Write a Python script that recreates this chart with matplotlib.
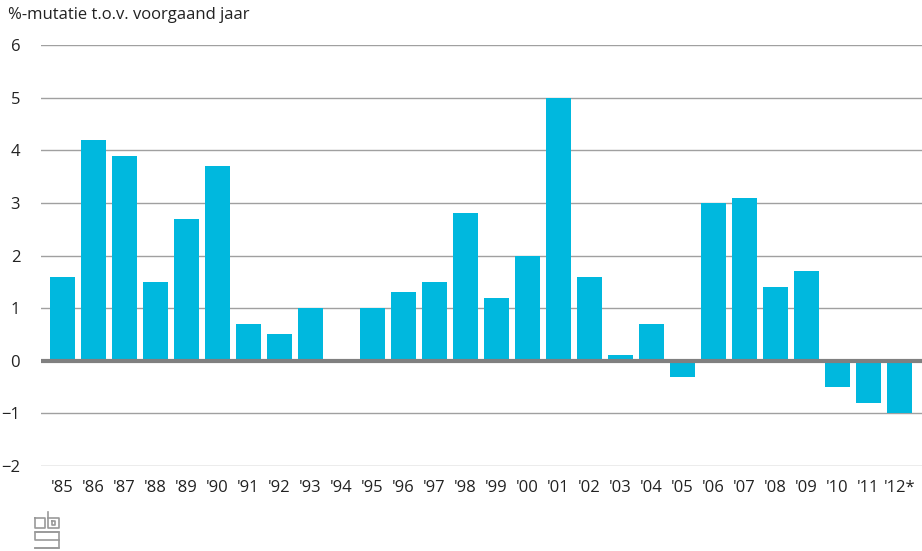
import matplotlib
matplotlib.use('Agg')
import matplotlib.pyplot as plt
import numpy as np

# data
years = ["'85", "'86", "'87", "'88", "'89", "'90", "'91", "'92", "'93", "'94",
         "'95", "'96", "'97", "'98", "'99", "'00", "'01", "'02", "'03", "'04",
         "'05", "'06", "'07", "'08", "'09", "'10", "'11", "'12*"]
mutatie = [1.6, 4.2, 3.9, 1.5, 2.7, 3.7, 0.7, 0.5, 1.0, 0.0,
           1.0, 1.3, 1.5, 2.8, 1.2, 2.0, 5.0, 1.6, 0.1, 0.7,
           -0.3, 3.0, 3.1, 1.4, 1.7, -0.5, -0.8, -1.0]
yticks = [-2, -1, 0, 1, 2, 3, 4, 5, 6]

plt.rcParams['font.family'] = ['Open Sans', 'DejaVu Sans']

fig = plt.figure(figsize=(9.22, 5.51), dpi=100)
ax = fig.add_axes([41/922, 1-466/551, 1-41/922, 421/551])

x = np.arange(len(years))
ax.bar(x, mutatie, width=0.806, color='#00b8de', zorder=2)

ax.set_ylim(-2, 6)
ax.set_xlim(-0.694, 27.73)
ax.set_yticks(yticks)
ax.set_yticklabels([str(t).replace('-', '\u2212') for t in yticks])
ax.set_xticks(x)
ax.set_xticklabels(years)

ax.grid(axis='y', color='#a0a0a0', linewidth=1, zorder=1)
ax.axhline(0, color='#808080', linewidth=3, zorder=3)
for s in ax.spines.values():
    s.set_visible(False)
ax.tick_params(axis='both', length=0, labelsize=12, colors='#222222')
ax.tick_params(axis='y', pad=15)
ax.tick_params(axis='x', pad=10)

fig.text(8/922, 1-15/551, '%-mutatie t.o.v. voorgaand jaar', fontsize=12,
         color='#222222', va='center', ha='left')

# rough cbs logo
lc = '#9a9a9a'
def fl(xs, ys):
    fig.add_artist(plt.Line2D([v/922 for v in xs], [1-v/551 for v in ys],
                              color=lc, linewidth=1.2))
fl([35, 45, 45, 35, 35], [518, 518, 528, 528, 518])
fl([48, 48, 59, 59, 48], [512, 528, 528, 518, 518])
fl([52, 55, 55, 52, 52], [521, 521, 525, 525, 521])
fl([35, 59, 59, 35], [532, 532, 548, 548])
fl([59, 35, 35, 59], [532, 532, 540, 540])
fl([35, 59], [548, 548])

fig.savefig('out.png', dpi=100)
